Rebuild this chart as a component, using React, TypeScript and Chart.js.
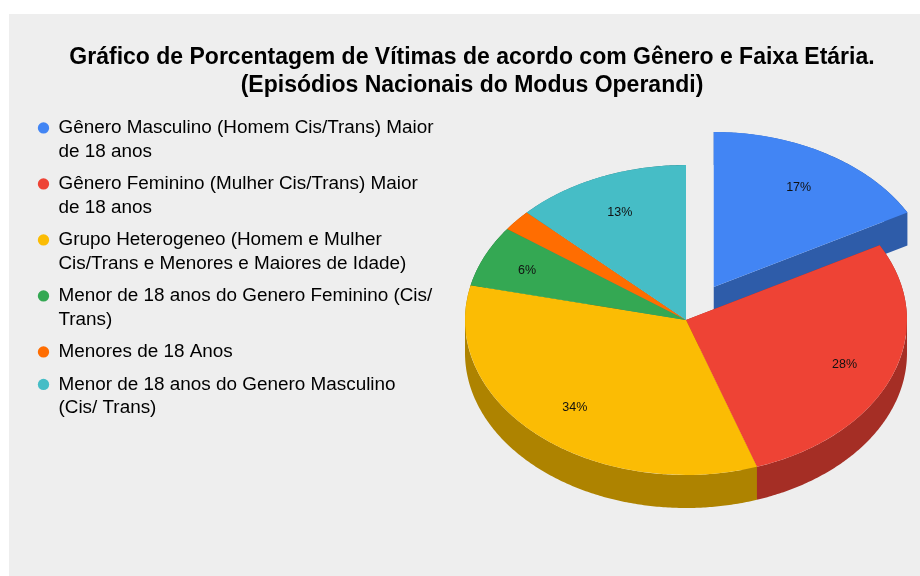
import React, { useEffect, useRef } from "react";
import { Chart, registerables } from "chart.js";

Chart.register(...registerables);

const titleLines = [
  "Gráfico de Porcentagem de Vítimas de acordo com Gênero e Faixa Etária.",
  "(Episódios Nacionais do Modus Operandi)",
];
const categories = [
  ["Gênero Masculino (Homem Cis/Trans) Maior", "de 18 anos"],
  ["Gênero Feminino (Mulher Cis/Trans) Maior", "de 18 anos"],
  ["Grupo Heterogeneo (Homem e Mulher", "Cis/Trans e Menores e Maiores de Idade)"],
  ["Menor de 18 anos do Genero Feminino (Cis/", "Trans)"],
  ["Menores de 18 Anos"],
  ["Menor de 18 anos do Genero Masculino", "(Cis/ Trans)"],
];
const values = [17.0, 27.8, 33.8, 6.4, 2.2, 12.8];
const colors = ["#4285f4", "#ee4335", "#fbbc04", "#34a853", "#ff6d01", "#46bdc6"];
const wallColors = ["#2e5ca9", "#a52e25", "#ae8300", "#247539", "#b14c00", "#308389"];
const sliceExplode = [54.5, 0, 0, 0, 0, 0];
const labelRadiusFactors = [0.755, 0.77, 0.75, 0.79, 0.75, 0.765];

const FONT = "'Liberation Sans', Arial, sans-serif";
const CX = 686;
const CY = 320;
const RADIUS = 221;
const SQUASH = 155 / 221;
const DEPTH = 33;

function drawWall(ctx: any, arc: any, color: string) {
  const toScreen = (r: number, t: number) => [
    arc.x + r * Math.cos(t),
    CY + (arc.y - CY + r * Math.sin(t)) * SQUASH,
  ];
  const pts = [toScreen(0, 0)];
  const steps = Math.max(2, Math.ceil((arc.endAngle - arc.startAngle) / 0.01));
  for (let s = 0; s <= steps; s++) {
    pts.push(toScreen(RADIUS, arc.startAngle + ((arc.endAngle - arc.startAngle) * s) / steps));
  }
  ctx.beginPath();
  pts.forEach((p, i) => {
    let a = p;
    let b = pts[(i + 1) % pts.length];
    if (b[0] < a[0]) [a, b] = [b, a];
    ctx.moveTo(a[0], a[1]);
    ctx.lineTo(b[0], b[1]);
    ctx.lineTo(b[0], b[1] + DEPTH);
    ctx.lineTo(a[0], a[1] + DEPTH);
    ctx.closePath();
  });
  ctx.fillStyle = color;
  ctx.fill();
}

const pie3d = {
  id: "pie3d",
  beforeDraw(chart: any) {
    const { ctx, width, height } = chart;
    ctx.save();
    ctx.fillStyle = "#eeeeee";
    ctx.fillRect(9, 14, width - 9, height - 14);
    ctx.restore();
  },
  afterLayout(chart: any) {
    const a = chart.chartArea;
    a.left = CX - RADIUS;
    a.right = CX + RADIUS;
    a.top = CY - RADIUS;
    a.bottom = CY + RADIUS;
    a.width = RADIUS * 2;
    a.height = RADIUS * 2;
  },
  afterDatasetsUpdate(chart: any) {
    chart.getDatasetMeta(0).data.forEach((arc: any, i: number) => {
      const mid = (arc.startAngle + arc.endAngle) / 2;
      arc.x += Math.cos(mid) * sliceExplode[i];
      arc.y += Math.sin(mid) * sliceExplode[i];
    });
  },
  beforeDatasetsDraw(chart: any) {
    const { ctx } = chart;
    const arcs = chart.getDatasetMeta(0).data;
    ctx.save();
    arcs.forEach((arc: any, i: number) => drawWall(ctx, arc, wallColors[i]));
    ctx.restore();
    ctx.save();
    ctx.translate(CX, CY);
    ctx.scale(1, SQUASH);
    ctx.translate(-CX, -CY);
  },
  afterDatasetsDraw(chart: any) {
    const { ctx } = chart;
    ctx.restore();
    const arcs = chart.getDatasetMeta(0).data;
    ctx.save();
    ctx.font = `12.5px ${FONT}`;
    ctx.fillStyle = "#111111";
    ctx.textAlign = "center";
    ctx.textBaseline = "middle";
    arcs.forEach((arc: any, i: number) => {
      if (values[i] < 5) return;
      const mid = (arc.startAngle + arc.endAngle) / 2;
      const r = RADIUS * labelRadiusFactors[i];
      const x = arc.x + Math.cos(mid) * r;
      const y = CY + (arc.y - CY + Math.sin(mid) * r) * SQUASH + 1.5;
      ctx.fillText(`${Math.round(values[i])}%`, x, y);
    });
    ctx.restore();
  },
};

export default function App() {
  const ref = useRef<HTMLCanvasElement>(null);
  useEffect(() => {
    const chart = new Chart(ref.current!, {
      type: "pie",
      data: {
        labels: categories as any,
        datasets: [
          {
            data: values,
            backgroundColor: colors,
            borderWidth: 0,
            radius: RADIUS,
          } as any,
        ],
      },
      plugins: [pie3d],
      options: {
        animation: false,
        responsive: false,
        layout: { padding: { left: 29, right: 5, top: 0, bottom: 0 } },
        plugins: {
          tooltip: { enabled: false },
          title: {
            display: true,
            text: titleLines,
            color: "#000000",
            font: { family: FONT, size: 23, weight: "bold", lineHeight: 28 / 23 },
            padding: { top: 44, bottom: 9.5 },
          },
          legend: {
            display: true,
            position: "left",
            align: "start",
            fullSize: false,
            labels: {
              color: "#222222",
              font: { family: FONT, size: 18.9, lineHeight: 23.5 / 18.9 },
              usePointStyle: true,
              pointStyle: "circle",
              boxWidth: 11,
              boxHeight: 8,
              padding: 9,
              generateLabels: () =>
                categories.map((text, i) => ({
                  text: text as any,
                  fillStyle: colors[i],
                  strokeStyle: colors[i],
                  lineWidth: 0,
                  pointStyle: "circle",
                  hidden: false,
                  index: i,
                })),
            },
          },
        },
      } as any,
    });
    return () => chart.destroy();
  }, []);
  return (
    <div style={{ position: "fixed", left: 0, top: 0, width: 920, height: 576, overflow: "hidden", background: "#fff" }}>
      <canvas ref={ref} width={920} height={576} style={{ display: "block" }} />
    </div>
  );
}
